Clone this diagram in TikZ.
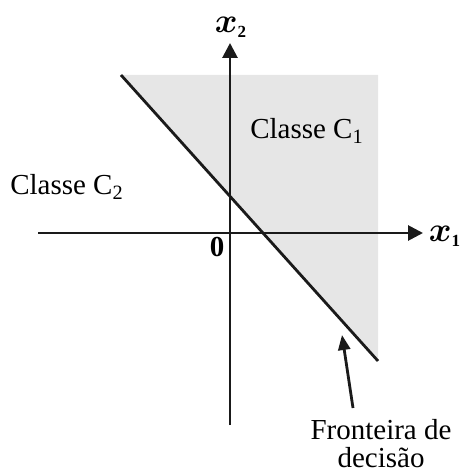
\documentclass[tikz,border=0pt]{standalone}
\usepackage{fontspec}
\setmainfont{Liberation Serif}
\usepackage{amsmath}
\usetikzlibrary{arrows.meta}
\definecolor{regionGray}{HTML}{E6E6E6}
\definecolor{lineBlack}{HTML}{1A1A1A}
\tikzset{
    axisline/.style={
        -{Triangle[length=7.5pt,width=7.5pt]},
        line width=1.4pt,
        draw=lineBlack
    },
    frontier/.style={
        line width=1.4pt,
        draw=lineBlack
    },
    pointer/.style={
        -{Triangle[length=7.5pt,width=6pt]},
        line width=1.4pt,
        draw=lineBlack
    },
    region/.style={fill=regionGray},
    textlabel/.style={
        font=\fontsize{14.5}{14}\selectfont,
        inner sep=0pt,
        align=center
    },
    axislabel/.style={
        font=\fontsize{17}{19}\selectfont,
        inner sep=0pt
    }
}

\begin{document}
\begin{tikzpicture}[x=0.5pt,y=-0.5pt]
    \useasboundingbox (0,0) rectangle (461,475);

    \coordinate (xstart) at (38,233);
    \coordinate (xend) at (423,233);
    \coordinate (ystart) at (230,425);
    \coordinate (yend) at (230,43);
    \coordinate (ftop) at (121,75);
    \coordinate (fbot) at (378,361);
    \coordinate (corner) at (378,75);
    \coordinate (tail) at (353,408);
    \coordinate (tip) at (342,335);

    \fill[region] (ftop) -- (corner) -- (fbot) -- cycle;

    \draw[axisline] (xstart) -- (xend);
    \draw[axisline] (ystart) -- (yend);
    \draw[frontier] (ftop) -- (fbot);

    \node[axislabel] (xone) at (445,236) {$\boldsymbol{x}_{\scriptscriptstyle\mathbf{1}}$};
    \node[axislabel] (xtwo) at (231,27) {$\boldsymbol{x}_{\scriptscriptstyle\mathbf{2}}$};
    \node[textlabel] (origin) at (217,247) {\textbf{0}};
    \node[textlabel] (classone) at (307,131) {Classe C\textsubscript{1}};
    \node[textlabel] (classtwo) at (67,187) {Classe C\textsubscript{2}};
    \node[textlabel] (fronteira) at (381,444) {Fronteira de\\decisão};

    \draw[pointer] (tail) -- (tip);
\end{tikzpicture}
\end{document}
